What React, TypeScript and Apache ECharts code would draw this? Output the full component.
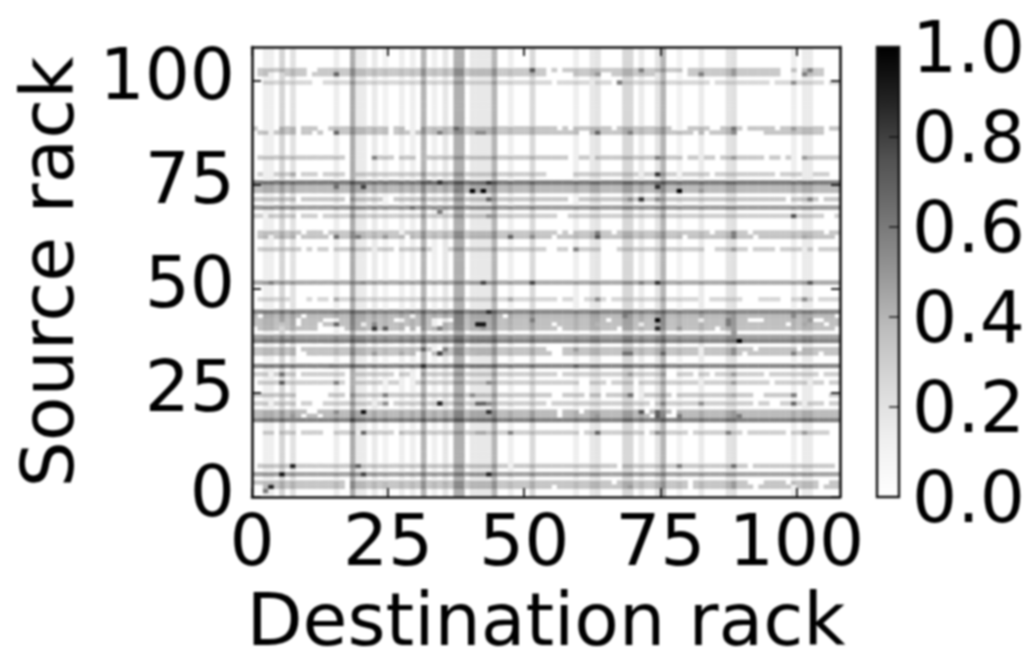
import React, { useEffect, useRef } from "react";
import * as echarts from "echarts";

const GRID_SIZE = 108;
const axisTicks = [0, 25, 50, 75, 100];
const colorbarTicks = [0, 0.2, 0.4, 0.6, 0.8, 1];
const greyStops = ["#ffffff", "#f0f0f0", "#d9d9d9", "#bdbdbd", "#969696", "#737373", "#525252", "#252525", "#000000"];

// [column, level]
const columnBands: number[][] = [
  [2, 0.13], [3, 0.13], [5, 0.27], [7, 0.2], [15, 0.14], [18, 0.43], [19, 0.15], [20, 0.15], [22, 0.16], [24, 0.11],
  [27, 0.13], [29, 0.13], [31, 0.4], [33, 0.13], [35, 0.18], [37, 0.42], [38, 0.42], [40, 0.17], [41, 0.17], [42, 0.17],
  [43, 0.17], [44, 0.4], [47, 0.13], [51, 0.25], [59, 0.13], [62, 0.17], [63, 0.19], [68, 0.26], [69, 0.26], [71, 0.15],
  [74, 0.19], [75, 0.4], [78, 0.11], [82, 0.15], [87, 0.19], [88, 0.21], [99, 0.13], [101, 0.15], [102, 0.15],
];

// [row, level]
const rowBands: number[][] = [
  [102, 0.32], [101, 0.32], [99, 0.26], [88, 0.34], [87, 0.34], [81, 0.32], [77, 0.3], [75, 0.6], [74, 0.38], [73, 0.38],
  [71, 0.33], [69, 0.48], [67, 0.3], [63, 0.33], [62, 0.35], [59, 0.3], [51, 0.44], [47, 0.26], [44, 0.55], [43, 0.38],
  [42, 0.36], [41, 0.36], [40, 0.36], [38, 0.46], [37, 0.56], [35, 0.35], [34, 0.35], [31, 0.55], [29, 0.3], [27, 0.3],
  [24, 0.32], [22, 0.3], [20, 0.38], [19, 0.38], [18, 0.58], [15, 0.3], [7, 0.32], [5, 0.46], [3, 0.34], [2, 0.34],
];

// row: columns where the band is broken
const rowGaps: Record<number, number[]> = {
  102: [0, 10, 11, 54, 56, 79, 97, 98, 100, 105, 106, 107],
  101: [0, 3, 4, 5, 10, 54, 55, 56, 57, 58, 64, 65, 74, 75, 76, 77, 78, 79, 97, 98, 99, 100, 105, 106, 107],
  99: [0, 1, 11, 12, 55, 62, 66, 84, 95, 105],
  88: [1, 2, 3, 4, 8, 12, 13, 25, 28, 29, 30, 56, 58, 66, 77, 78, 79, 84, 85, 90, 96, 105],
  87: [0, 3, 8, 11, 13, 14, 25, 29, 60, 61, 81, 83, 89, 90, 91, 92, 93, 105, 106, 107],
  81: [0, 17, 18, 19, 20, 21, 26, 30, 31, 58, 59, 62, 79, 82, 85, 94, 97, 99, 100],
  77: [0, 2, 3, 8, 12, 17, 18, 54, 55, 56, 57, 58, 71, 78, 84, 96, 101, 102, 106, 107],
  71: [8, 17, 24, 25, 58, 59, 98, 104],
  67: [2, 8, 12, 56, 57, 105, 106],
  63: [0, 9, 13, 27, 56, 58, 66, 84, 91, 105],
  62: [0, 3, 8, 14, 28, 55, 79, 92, 107],
  59: [0, 9, 11, 14, 22, 26, 33, 34, 35, 54, 55, 58, 64, 65, 66, 83, 84, 91, 96, 101, 103],
  47: [0, 7, 8, 9, 11, 14, 56, 59, 60, 65, 82, 83, 90, 91, 92, 97, 98, 103],
  43: [1, 9, 29, 46, 107],
  42: [8, 13, 14, 15, 26, 27, 33, 34, 35, 36, 65, 82, 91, 92, 93, 103, 104],
  41: [8, 12, 20, 33, 34, 55, 71, 98, 105],
  40: [0, 5, 12, 13, 14, 15, 16, 28, 30, 56, 67, 85, 107],
  35: [8, 33, 34, 54, 55, 56, 82, 92, 100],
  34: [8, 9, 30, 31, 32, 55, 56, 82, 90, 104],
  29: [3, 8, 17, 18, 26, 29, 30, 56, 76, 77, 81, 84, 94, 104],
  27: [0, 15, 17, 18, 24, 27, 28, 29, 60, 61, 65, 70, 82, 95, 102, 105],
  24: [8, 9, 10, 11, 12, 13, 17, 55, 56, 61, 64, 70, 71, 77, 92, 93, 100, 101, 102, 103, 104, 105],
  22: [3, 8, 11, 12, 22, 25, 54, 73, 92, 95, 96, 101, 105],
  20: [10, 11, 56, 60, 72, 77],
  19: [9, 12, 56, 73, 76, 77],
  15: [0, 1, 4, 8, 13, 14, 19, 26, 60, 72, 80, 90, 98, 106, 107],
  7: [0, 47, 67, 91, 107],
  3: [17, 66, 80, 91, 92, 93, 98, 104, 105],
  2: [0, 1, 17, 55, 80, 92, 99, 104],
};

// [column, row, value] for the isolated dark cells
const hotCells: number[][] = [
  [15, 101, 0.7], [51, 102, 0.75], [15, 87, 0.7], [34, 87, 0.6], [37, 88, 0.7], [18, 88, 0.55], [41, 87, 0.55], [42, 87, 0.55],
  [22, 81, 0.6], [7, 77, 0.45], [34, 75, 0.85], [43, 75, 0.85], [32, 75, 0.7], [20, 74, 0.8], [15, 74, 0.65], [40, 73, 1],
  [42, 73, 1], [43, 71, 0.7], [37, 73, 0.6], [29, 69, 0.65], [34, 68, 0.6], [43, 67, 0.5], [15, 62, 0.65], [19, 62, 0.6],
  [24, 62, 0.5], [47, 62, 0.7], [51, 62, 0.55], [31, 59, 0.55], [63, 101, 0.5], [71, 102, 0.6], [82, 101, 0.6], [88, 101, 0.5],
  [88, 102, 0.5], [102, 102, 0.6], [101, 101, 0.6], [67, 99, 0.6], [99, 99, 0.55], [63, 87, 0.7], [69, 87, 0.6], [88, 88, 0.65],
  [88, 87, 0.55], [99, 88, 0.5], [74, 81, 0.6], [88, 81, 0.5], [101, 81, 0.5], [74, 77, 0.85], [74, 74, 0.85], [78, 73, 1],
  [82, 73, 0.5], [71, 71, 0.85], [74, 71, 0.55], [69, 71, 0.55], [102, 71, 0.6], [99, 67, 0.75], [63, 69, 0.55], [63, 62, 0.75],
  [63, 63, 0.6], [88, 62, 0.6], [88, 63, 0.6], [82, 62, 0.4], [101, 62, 0.45], [59, 59, 0.6], [88, 59, 0.5], [3, 51, 0.6],
  [20, 51, 0.55], [42, 51, 0.8], [51, 51, 0.8], [15, 47, 0.45], [47, 47, 0.45], [5, 44, 0.65], [43, 44, 0.85], [15, 41, 0.7],
  [41, 41, 0.95], [42, 41, 0.95], [22, 41, 0.55], [22, 40, 0.85], [24, 40, 0.75], [34, 40, 0.6], [51, 42, 0.6], [5, 41, 0.35],
  [42, 40, 0.5], [2, 38, 0.5], [6, 37, 0.6], [22, 34, 0.5], [18, 34, 0.6], [31, 35, 0.7], [35, 35, 0.6], [34, 34, 0.8],
  [27, 34, 0.45], [40, 34, 0.4], [31, 31, 0.85], [2, 31, 0.6], [3, 31, 0.6], [14, 31, 0.6], [15, 31, 0.6], [5, 29, 0.65],
  [5, 27, 0.75], [15, 27, 0.6], [43, 27, 0.55], [24, 24, 0.6], [40, 24, 0.55], [34, 22, 0.9], [41, 22, 0.7], [42, 22, 0.7],
  [24, 22, 0.55], [43, 22, 0.55], [20, 20, 0.95], [43, 20, 0.85], [15, 20, 0.55], [5, 20, 0.5], [7, 19, 0.5], [7, 18, 0.6],
  [18, 18, 0.8], [20, 15, 0.7], [27, 15, 0.4], [41, 15, 0.45], [42, 15, 0.45], [47, 15, 0.6], [7, 7, 0.9], [19, 7, 0.7],
  [5, 5, 0.95], [20, 5, 0.8], [27, 5, 0.5], [29, 5, 0.5], [43, 5, 0.9], [3, 2, 0.9], [2, 1, 0.6], [35, 2, 0.4],
  [71, 51, 0.6], [74, 51, 0.85], [88, 51, 0.55], [102, 51, 0.75], [63, 47, 0.55], [101, 47, 0.55], [74, 42, 1], [74, 40, 0.9],
  [87, 41, 0.6], [87, 42, 0.6], [78, 40, 0.5], [88, 39, 0.5], [88, 40, 0.5], [88, 41, 0.5], [88, 42, 0.5], [88, 43, 0.5],
  [102, 42, 0.5], [101, 41, 0.45], [63, 41, 0.4], [68, 43, 0.6], [99, 43, 0.55], [89, 37, 1], [59, 35, 0.5], [68, 34, 0.65],
  [69, 34, 0.65], [75, 34, 0.7], [88, 34, 0.55], [88, 35, 0.55], [99, 34, 0.6], [59, 31, 0.7], [69, 31, 0.65], [69, 29, 0.5],
  [88, 29, 0.5], [88, 27, 0.5], [69, 24, 0.65], [99, 24, 0.6], [88, 24, 0.45], [75, 22, 0.6], [82, 22, 0.55], [99, 22, 0.7],
  [71, 20, 0.75], [74, 19, 0.7], [74, 20, 0.7], [78, 19, 0.6], [63, 19, 0.5], [88, 19, 0.5], [88, 20, 0.5], [89, 19, 0.6],
  [63, 15, 0.7], [74, 15, 0.55], [87, 15, 0.6], [101, 15, 0.5], [78, 7, 0.6], [88, 7, 0.65], [68, 5, 0.55], [69, 2, 0.5],
  [88, 2, 0.5], [88, 3, 0.5],
];

const colorbarCell = [[0, 0, 1, 1]];

function buildCells(): number[][] {
  const cols = new Map(columnBands.map(([c, v]) => [c, v]));
  const rows = new Map(rowBands.map(([r, v]) => [r, v]));
  const hot = new Map(hotCells.map(([c, r, v]) => [c + "," + r, v]));
  const cells: number[][] = [];
  for (let r = 0; r < GRID_SIZE; r++) {
    const gaps = rowGaps[r] || [];
    for (let c = 0; c < GRID_SIZE; c++) {
      const a = cols.get(c) || 0;
      const b = gaps.includes(c) ? 0 : rows.get(r) || 0;
      const band = Math.max(a, b) + 0.4 * Math.min(a, b);
      const v = hot.has(c + "," + r) ? (hot.get(c + "," + r) as number) : Math.min(band, 1);
      if (v > 0) cells.push([c, r, v]);
    }
  }
  return cells;
}

const FONT = "DejaVu Sans";
const TICK_FONT = 71;
const NAME_FONT = 73;

function frameAxis(gridIndex: number, position: string) {
  return {
    type: "value",
    gridIndex,
    position,
    min: 0,
    max: GRID_SIZE,
    interval: 25,
    splitLine: { show: false },
    axisLine: { show: true, onZero: false, lineStyle: { color: "#111", width: 2.6 } },
    axisTick: { show: true, inside: true, length: 9, customValues: axisTicks, lineStyle: { color: "#111", width: 1.8 } },
    axisLabel: { show: false },
    z: 10,
  };
}

export default function App() {
  const ref = useRef<HTMLDivElement>(null);
  useEffect(() => {
    document.body.style.margin = "0";
    const chart = echarts.init(ref.current as HTMLDivElement, undefined, { renderer: "svg" });
    const labelled = {
      show: true,
      customValues: axisTicks,
      fontFamily: FONT,
      fontSize: TICK_FONT,
      color: "#000",
    };
    const nameStyle = { fontFamily: FONT, fontSize: NAME_FONT, color: "#000" };
    chart.setOption({
      animation: false,
      backgroundColor: "#fff",
      grid: [
        { left: 252, top: 47, width: 588, height: 450, outerBoundsMode: "none" },
        { left: 877, top: 47, width: 22, height: 450, outerBoundsMode: "none" },
      ],
      xAxis: [
        {
          ...frameAxis(0, "bottom"),
          axisLabel: { ...labelled, margin: 8 },
          name: "Destination rack",
          nameLocation: "middle",
          nameGap: 94,
          nameTextStyle: { ...nameStyle, lineHeight: 56 },
        },
        frameAxis(0, "top"),
        { type: "value", gridIndex: 1, min: 0, max: 1, show: false },
      ],
      yAxis: [
        {
          ...frameAxis(0, "left"),
          axisLabel: { ...labelled, margin: 17, verticalAlign: "bottom", lineHeight: 12 },
          name: "Source rack",
          nameLocation: "middle",
          nameGap: 168,
          nameTextStyle: nameStyle,
        },
        frameAxis(0, "right"),
        {
          type: "value",
          gridIndex: 1,
          position: "right",
          min: 0,
          max: 1,
          interval: 0.2,
          splitLine: { show: false },
          axisLine: { show: false },
          axisTick: { show: false },
          axisLabel: {
            show: true,
            margin: 13,
            fontFamily: FONT,
            fontSize: TICK_FONT,
            color: "#000",
            customValues: colorbarTicks,
            formatter: (v: number) => v.toFixed(1),
          },
          z: 10,
        },
      ],
      visualMap: {
        show: false,
        seriesIndex: 0,
        dimension: 2,
        min: 0,
        max: 1,
        inRange: { color: greyStops },
      },
      series: [
        {
          type: "custom",
          xAxisIndex: 0,
          yAxisIndex: 0,
          clip: true,
          encode: { x: 0, y: 1 },
          data: buildCells(),
          renderItem: (_: any, api: any) => {
            const c = api.value(0);
            const r = api.value(1);
            const a = api.coord([c, r + 1]);
            const b = api.coord([c + 1, r]);
            return {
              type: "rect",
              shape: { x: a[0], y: a[1], width: b[0] - a[0] + 0.3, height: b[1] - a[1] + 0.3 },
              style: { fill: api.visual("color") },
            };
          },
        },
        {
          type: "custom",
          xAxisIndex: 2,
          yAxisIndex: 2,
          encode: { x: [0, 2], y: [1, 3] },
          data: colorbarCell,
          renderItem: (_: any, api: any) => {
            const a = api.coord([api.value(0), api.value(3)]);
            const b = api.coord([api.value(2), api.value(1)]);
            const ticks = colorbarTicks.slice(1, -1).map((t) => {
              const p = api.coord([1, t]);
              return {
                type: "line",
                shape: { x1: p[0] - 10, y1: p[1], x2: p[0], y2: p[1] },
                style: { stroke: "#111", lineWidth: 1.4 },
              };
            });
            return {
              type: "group",
              children: [
                {
                  type: "rect",
                  shape: { x: a[0], y: a[1], width: b[0] - a[0], height: b[1] - a[1] },
                  style: {
                    stroke: "#111",
                    lineWidth: 2.4,
                    fill: new echarts.graphic.LinearGradient(
                      0,
                      1,
                      0,
                      0,
                      greyStops.map((color, i) => ({ offset: i / (greyStops.length - 1), color })),
                    ),
                  },
                },
                ...ticks,
              ],
            };
          },
        },
      ],
    });
    return () => chart.dispose();
  }, []);
  return (
    <div
      ref={ref}
      style={{ position: "fixed", left: 0, top: 0, width: 1028, height: 648, filter: "blur(0.9px)" }}
    />
  );
}
